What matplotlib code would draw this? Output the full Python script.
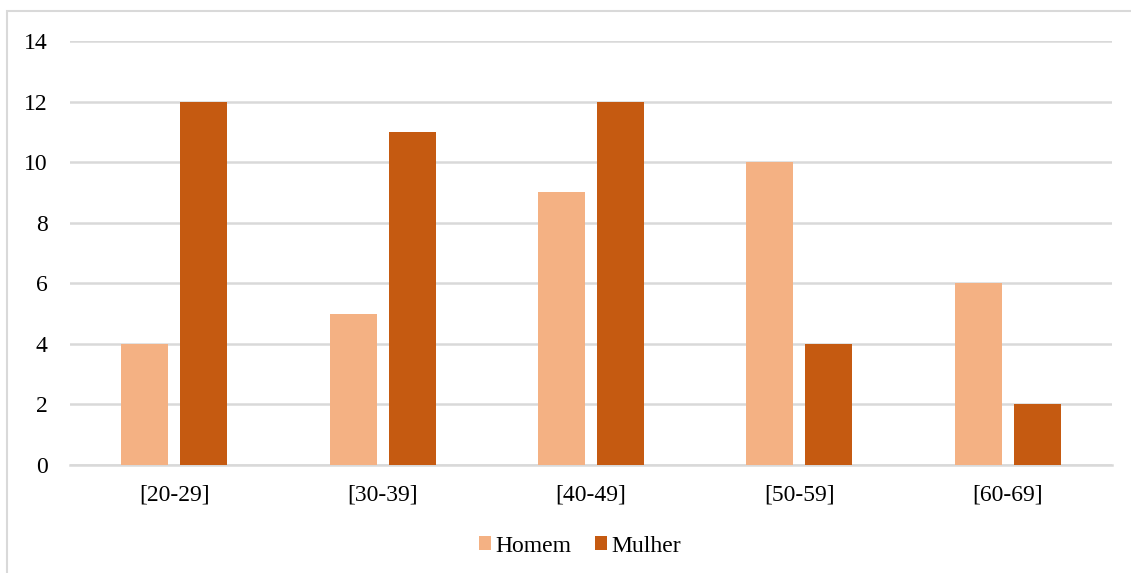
import numpy as np
import matplotlib.pyplot as plt
from matplotlib.patches import Rectangle

faixas = ['[20-29]', '[30-39]', '[40-49]', '[50-59]', '[60-69]']
homem = [4, 5, 9, 10, 6]
mulher = [12, 11, 12, 4, 2]

plt.rcParams['font.family'] = ['Liberation Serif', 'DejaVu Serif']
plt.rcParams['font.size'] = 17

fig = plt.figure(figsize=(11.31, 5.73), dpi=100)
ax = fig.add_axes([70 / 1131, 1 - 465 / 573, 1042 / 1131, 424 / 573])

x = np.arange(len(faixas))
w = 0.225
gap = 0.058
ax.bar(x - (w + gap) / 2, homem, w, color='#F4B183', label='Homem', zorder=3)
ax.bar(x + (w + gap) / 2, mulher, w, color='#C55A11', label='Mulher', zorder=3)

ax.set_xlim(-0.5, len(faixas) - 0.5)
ax.set_ylim(0, 14)
ax.set_yticks(range(0, 15, 2))
ax.set_xticks(x)
ax.set_xticklabels(faixas)
ax.yaxis.grid(True, color='#d9d9d9', linewidth=1.8, zorder=0)
ax.tick_params(axis='both', length=0, colors='#000000')
ax.tick_params(axis='y', pad=16)
ax.tick_params(axis='x', pad=14)
for s in ['top', 'right', 'left']:
    ax.spines[s].set_visible(False)
ax.spines['bottom'].set_color('#d9d9d9')
ax.spines['bottom'].set_linewidth(1.8)

fig.legend(loc='center', bbox_to_anchor=(580 / 1131, 1 - 546 / 573), ncol=2,
           frameon=False, handlelength=0.5, handleheight=0.5,
           handletextpad=0.2, columnspacing=1.0)

# moldura cinza clara do gráfico
fig.patches.append(Rectangle((7 / 1131, -0.05), 1.1, 1 - 11 / 573 + 0.05,
                             transform=fig.transFigure, fill=False,
                             edgecolor='#d9d9d9', linewidth=1.5))

fig.savefig('out.png', dpi=100)
